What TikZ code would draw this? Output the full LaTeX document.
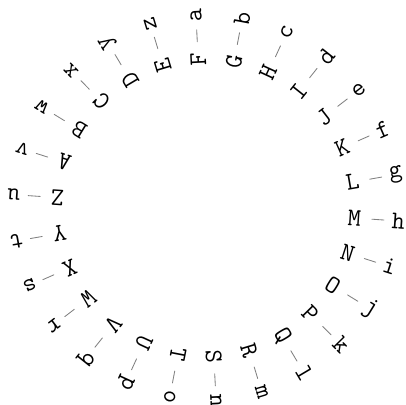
\documentclass[tikz,border=0pt]{standalone}
\begin{document}
\begin{tikzpicture}[line cap=round, font=\ttfamily\large]
    \useasboundingbox (-3.42,-3.27) rectangle (3.32,3.45);
    % Anelli di lettere
    \foreach \lo/\up [count=\i from 0] in {a/F, b/G, c/H, d/I, e/J, f/K, g/L, h/M, i/N, j/O, k/P, l/Q, m/R, n/S, o/T, p/U, q/V, r/W, s/X, t/Y, u/Z, v/A, w/B, x/C, y/D, z/E} {
        \pgfmathsetmacro{\ang}{93-\i*360/26}
        \node[rotate=\ang] (in\i) at (\ang:2.47) {\up};
        \node[rotate=\ang] (out\i) at (\ang:3.2) {\lo};
        % Trattino
        \draw[gray, shorten <=0.29cm, shorten >=0.24cm] (in\i.center) -- (out\i.center);
    }
\end{tikzpicture}
\end{document}
